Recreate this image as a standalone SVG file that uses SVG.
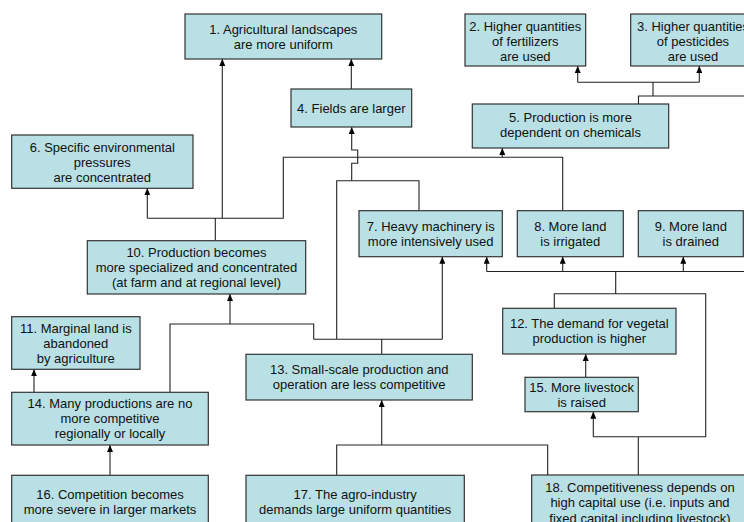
<svg xmlns="http://www.w3.org/2000/svg" width="744" height="522" viewBox="0 0 744 522">
<defs>
<marker id="ah" viewBox="0 0 7 6" refX="7" refY="3" markerWidth="7" markerHeight="6" markerUnits="userSpaceOnUse" orient="auto">
<path d="M0,0 L7,3 L0,6 z" fill="#000"/>
</marker>
<style>
.box{fill:#B9E0E4;stroke:#333;stroke-width:1.2}
.t{font-family:"Liberation Sans",Arial,sans-serif;font-size:13px;fill:#111;text-anchor:middle}
.c{fill:none;stroke:#222;stroke-width:1.1}
.a{fill:none;stroke:#222;stroke-width:1.1;marker-end:url(#ah)}
</style>
</defs>
<rect width="744" height="522" fill="#fff"/>
<g id="connectors">
<path class="a" d="M351.3 89 V59"/>
<path class="c" d="M215.3 240.7 V218.3 M147.3 218.3 H283.3 V157.3 H562.7 V210.7"/>
<path class="a" d="M147.3 218.3 V188.3"/>
<path class="a" d="M222.3 218.3 V59"/>
<path class="a" d="M502.3 157.3 V148"/>
<path class="c" d="M638.5 104 V96 H744 M653 96 V82.3 M577.7 82.3 H699.3"/>
<path class="a" d="M577.7 82.3 V66"/>
<path class="a" d="M699.3 82.3 V66"/>
<path class="c" d="M381.7 354.3 V339.3 M313.7 339.3 H442.3 M336.7 339.3 V180.7 H419 V210.7 M313.7 339.3 V324 H170 V392.3"/>
<path class="a" d="M442.3 339.3 V256.7"/>
<path class="a" d="M230 324 V294"/>
<path class="a" d="M351.7 180.7 V163.3 H357.7 V150 H351.7 V127"/>
<path class="c" d="M554.3 308.3 V293.7 H705.7 V436.7 H593.3 M615.7 293.7 V271.5 H744 M486.7 271.5 H615.7 M638.3 475 V436.7"/>
<path class="a" d="M486.7 271.5 V256.7"/>
<path class="a" d="M562.7 271.5 V256.7"/>
<path class="a" d="M683.3 271.5 V256.7"/>
<path class="a" d="M593.3 436.7 V411.7"/>
<path class="a" d="M585.7 377.3 V354"/>
<path class="c" d="M547.7 475 V445 H336.7 V475.3"/>
<path class="a" d="M381.7 445 V400"/>
<path class="a" d="M34 392.3 V369.3"/>
<path class="a" d="M110 475.3 V445"/>
</g>
<g id="n1"><rect class="box" x="185" y="14" width="196.7" height="45"/><text class="t" x="283.3" y="34">1. Agricultural landscapes</text><text class="t" x="283.3" y="49">are more uniform</text></g>
<g id="n2"><rect class="box" x="465" y="14" width="120.7" height="52"/><text class="t" x="525.3" y="30.5">2. Higher quantities</text><text class="t" x="525.3" y="45.5">of fertilizers</text><text class="t" x="525.3" y="60.5">are used</text></g>
<g id="n3"><rect class="box" x="630.7" y="14" width="124.6" height="52"/><text class="t" x="693" y="30.5">3. Higher quantities</text><text class="t" x="693" y="45.5">of pesticides</text><text class="t" x="693" y="60.5">are used</text></g>
<g id="n4"><rect class="box" x="291" y="89" width="120.7" height="38"/><text class="t" x="351.3" y="112.5">4. Fields are larger</text></g>
<g id="n5"><rect class="box" x="472.3" y="104" width="196.4" height="44"/><text class="t" x="570.5" y="122">5. Production is more</text><text class="t" x="570.5" y="137">dependent on chemicals</text></g>
<g id="n6"><rect class="box" x="11.7" y="135" width="181.3" height="53.3"/><text class="t" x="102.3" y="151.5">6. Specific environmental</text><text class="t" x="102.3" y="166.5">pressures</text><text class="t" x="102.3" y="181.5">are concentrated</text></g>
<g id="n7"><rect class="box" x="359" y="210.7" width="143.3" height="46"/><text class="t" x="430.7" y="230.8">7. Heavy machinery is</text><text class="t" x="430.7" y="245.8">more intensively used</text></g>
<g id="n8"><rect class="box" x="517.3" y="210.7" width="106" height="46"/><text class="t" x="570.3" y="230.8">8. More land</text><text class="t" x="570.3" y="245.8">is irrigated</text></g>
<g id="n9"><rect class="box" x="638.3" y="210.7" width="105" height="46"/><text class="t" x="690.8" y="230.8">9. More land</text><text class="t" x="690.8" y="245.8">is drained</text></g>
<g id="n10"><rect class="box" x="87.3" y="240.7" width="218.4" height="53.3"/><text class="t" x="196.5" y="257">10. Production becomes</text><text class="t" x="196.5" y="272">more specialized and concentrated</text><text class="t" x="196.5" y="287">(at farm and at regional level)</text></g>
<g id="n11"><rect class="box" x="11.7" y="316.7" width="128.3" height="52.6"/><text class="t" x="75.8" y="332.7">11. Marginal land is</text><text class="t" x="75.8" y="347.7">abandoned</text><text class="t" x="75.8" y="362.7">by agriculture</text></g>
<g id="n12"><rect class="box" x="502.7" y="308.3" width="173.3" height="45.7"/><text class="t" x="589.3" y="328.4">12. The demand for vegetal</text><text class="t" x="589.3" y="343.4">production is higher</text></g>
<g id="n13"><rect class="box" x="246" y="354.3" width="226.3" height="45.7"/><text class="t" x="359.2" y="374.4">13. Small-scale production and</text><text class="t" x="359.2" y="389.4">operation are less competitive</text></g>
<g id="n14"><rect class="box" x="11.7" y="392.3" width="196.6" height="52.7"/><text class="t" x="110" y="408.4">14. Many productions are no</text><text class="t" x="110" y="423.4">more competitive</text><text class="t" x="110" y="438.4">regionally or locally</text></g>
<g id="n15"><rect class="box" x="525" y="377.3" width="113.3" height="34.4"/><text class="t" x="581.7" y="391.7">15. More livestock</text><text class="t" x="581.7" y="406.7">is raised</text></g>
<g id="n16"><rect class="box" x="11.7" y="475.3" width="196.6" height="52.4"/><text class="t" x="110" y="498.7">16. Competition becomes</text><text class="t" x="110" y="514">more severe in larger markets</text></g>
<g id="n17"><rect class="box" x="246" y="475.3" width="218.3" height="52.4"/><text class="t" x="355.2" y="498.7">17. The agro-industry</text><text class="t" x="355.2" y="514">demands large uniform quantities</text></g>
<g id="n18"><rect class="box" x="531.7" y="475" width="216.6" height="54"/><text class="t" x="640" y="491.5">18. Competitiveness depends on</text><text class="t" x="640" y="507">high capital use (i.e. inputs and</text><text class="t" x="640" y="522.5">fixed capital including livestock)</text></g>
</svg>
